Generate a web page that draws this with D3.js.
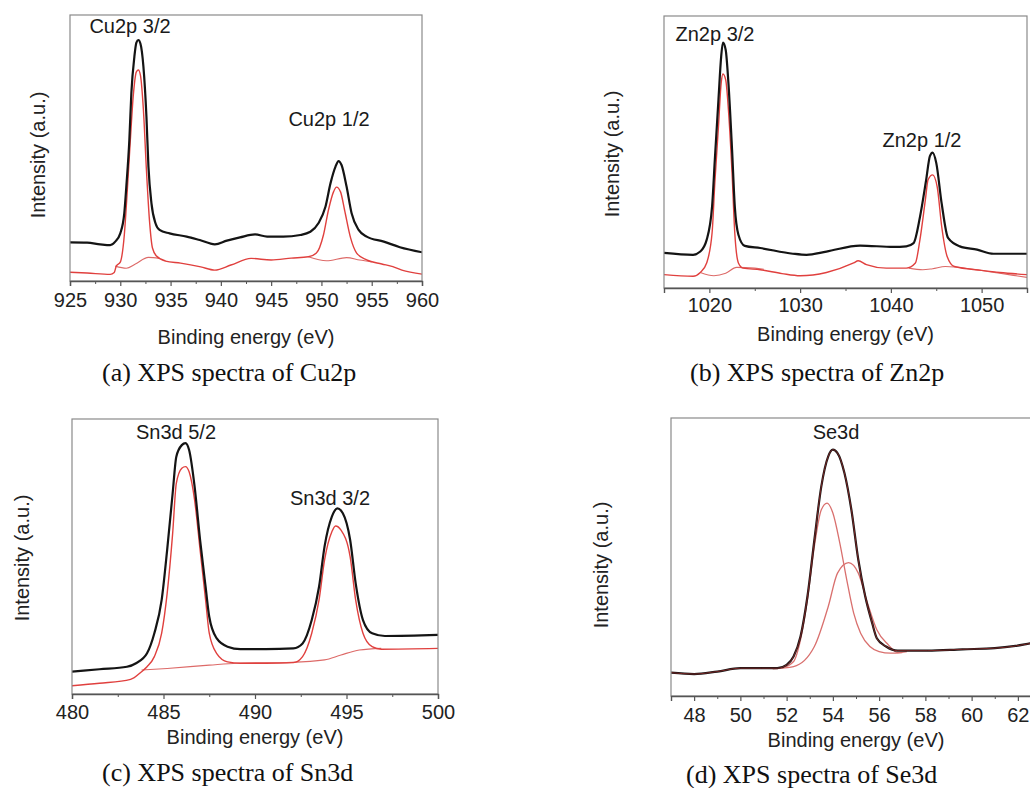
<!DOCTYPE html>
<html>
<head>
<meta charset="utf-8">
<script src="https://cdn.jsdelivr.net/npm/d3@7"></script>
<style>
  body { margin: 0; background: #fff; }
  svg text { font-family: "Liberation Sans", Arial, sans-serif; }
  svg text.caption { font-family: "Liberation Serif", "Times New Roman", serif; }
</style>
</head>
<body>
<svg id="xps" width="1030" height="788"></svg>
<script>
/* XPS spectra of Cu2p, Zn2p, Sn3d, Se3d: raw data (black), fit and background (red). */

// ---- (a) Cu2p: [binding energy eV, intensity a.u.]
const cuRaw = [[925,14.5],[926.7,14.4],[928,13.8],[929,13.5],[929.5,14.8],[930,17.9],[930.4,25.5],[930.6,35.5],[930.9,53],[931.1,70.6],[931.4,84.3],[931.6,89.6],[931.8,90.6],[932,89.3],[932.3,80.6],[932.6,61.8],[932.8,43],[933.1,29.2],[933.5,21.7],[933.9,19.2],[934.9,17.9],[936.6,16.7],[937.9,15.4],[939.4,13.8],[940.6,15.2],[941.9,16.4],[943.4,17.5],[944.6,16.7],[946.2,16.7],[947.9,17.3],[948.9,18.5],[949.7,21.7],[950.4,27.9],[950.9,36.7],[951.4,43],[951.7,45.1],[952,43.6],[952.5,35.5],[953,25.5],[953.7,19.2],[954.5,16.7],[956.2,14.8],[957.8,12.7],[960,10.8]];
const cuFit = [[925,3.3],[926.7,3.0],[929,2.5],[929.4,3.2],[929.6,5.6],[930,7.1],[930.4,17.3],[930.7,34.2],[931,53],[931.3,70],[931.6,78.6],[931.8,79.3],[932,77.4],[932.3,64.3],[932.6,41.7],[932.9,22.9],[933.2,12.4],[933.6,9.4],[934.5,7.5],[936,6.7],[938,5.3],[939.4,4.1],[941,6],[943,8.5],[945,7.9],[947,8.6],[948.7,9.1],[949.5,10.5],[950.2,17.3],[950.7,26.7],[951.2,33.5],[951.5,35.3],[951.9,33.5],[952.3,26.7],[952.9,16.2],[953.5,10.5],[954.5,7.9],[956,6.4],[957.1,5.4],[958,4.1],[960,2.6]];
const cuBackground = [
  [[929.5,5.6],[930.6,4.8],[931.5,6.4],[932.8,8.9],[933.9,8.5]],
  [[948.7,9.1],[950.5,7.6],[952.5,8.8],[953.8,7.9],[955,7.2]]
];
const cuTicks = [925,930,935,940,945,950,955,960];
const cuMinorTicks = [927.5,932.5,937.5,942.5,947.5,952.5,957.5];
const cuPeakNames = ["Cu2p 3/2","Cu2p 1/2"];

// ---- (b) Zn2p
const znRaw = [[1015,12.9],[1018.2,12.2],[1019,13.4],[1019.7,17.7],[1020.3,30],[1020.6,47.1],[1021,69.2],[1021.3,85.1],[1021.5,90.2],[1021.8,87.5],[1022.1,75.3],[1022.5,50.8],[1022.8,30],[1023.2,19.6],[1023.9,15.5],[1025.6,14.7],[1029.2,12.6],[1030.7,12.2],[1032.9,13.4],[1036.6,15.6],[1040.3,15.1],[1041.7,15.3],[1042.5,16.5],[1043.2,26],[1043.9,40],[1044.3,48.5],[1044.6,49.8],[1045,46],[1045.6,31],[1046.3,18.4],[1047.6,15.3],[1049.5,14.1],[1051.3,12.6],[1055,12.6]];
const znFit = [[1015,4.9],[1018.2,4.3],[1019,5.7],[1019.7,9.2],[1020.3,20.3],[1020.6,38.6],[1021,59.3],[1021.3,75.3],[1021.5,78.7],[1021.8,76.5],[1022.1,65.5],[1022.5,42.2],[1022.8,20.2],[1023.2,9.2],[1023.7,7.3],[1025.6,6.7],[1028,5.3],[1030,4.5],[1032.9,5.7],[1035.9,9.2],[1036.4,10],[1037.3,8.6],[1039.5,7.3],[1041.7,7.3],[1042.7,9.2],[1043.2,17.7],[1043.8,32.4],[1044.1,39.8],[1044.6,41.6],[1045.1,37.3],[1045.6,22.6],[1046.2,11.6],[1047,7.9],[1050,6.5],[1052,5.7],[1055,4.9]];
const znBackground = [
  [[1019,5.7],[1020.5,4.5],[1021.8,5.4],[1023,7.6],[1025,7.3],[1026,6.9]],
  [[1042,7.3],[1043.5,6.7],[1044.6,7.1],[1046,7.9],[1049,6.9],[1052,5.4],[1055,3.9]]
];
const znTicks = [1020,1030,1040,1050];
const znMinorTicks = [1015,1025,1035,1045,1055];
const znPeakNames = ["Zn2p 3/2","Zn2p 1/2"];

// ---- (c) Sn3d
const snRaw = [[480,8.1],[481.5,9],[483,9.9],[483.5,11.2],[484.1,14.8],[484.5,22.1],[484.9,34.2],[485.2,52.4],[485.5,73],[485.7,86.3],[486,90.5],[486.2,91.2],[486.4,88.7],[486.7,75.4],[487,56],[487.3,39],[487.5,28.1],[487.9,20.3],[488.5,17.2],[489.2,16.3],[490.6,16.3],[492.1,16.6],[492.6,18.4],[493.1,26.9],[493.5,39],[493.8,53.6],[494.2,64.5],[494.5,67.5],[494.8,65.7],[495.2,56],[495.5,40.3],[495.9,26.9],[496.4,22.1],[497.1,21.1],[500,21.5]];
const snFit = [[480,3],[481.5,3.9],[483.2,5.3],[483.8,8.1],[484.1,9.9],[484.5,13.6],[484.9,22.1],[485.2,36.6],[485.5,58.4],[485.7,76.6],[486,82.1],[486.2,82.7],[486.4,80.8],[486.7,70.5],[487,52.4],[487.3,34.2],[487.5,22.1],[487.9,14.8],[488.5,11.7],[489.2,11.2],[490.6,11.2],[492.1,11.4],[492.6,13.6],[493.1,22.1],[493.5,34.2],[493.8,48.7],[494.2,59],[494.4,61.1],[494.7,59.6],[495.2,49.9],[495.5,34.2],[495.9,22.1],[496.4,17.2],[496.9,16.3],[500,16.6]];
const snBackground = [
  [[483.8,8.7],[485.2,9.3],[487.5,10.5],[489,11.2],[492,11.5],[493.8,12.4],[494.7,14.2],[495.7,16],[496.9,16.6]]
];
const snTicks = [480,485,490,495,500];
const snMinorTicks = [482.5,487.5,492.5,497.5];
const snPeakNames = ["Sn3d 5/2","Sn3d 3/2"];

// ---- (d) Se3d
const seRaw = [[47,8.4],[48,7.9],[49,8.8],[50,10],[50.9,10],[51.6,10],[52,11.2],[52.3,14.2],[52.6,21.4],[52.9,35.8],[53.2,56.2],[53.5,75.4],[53.8,86.2],[54,88.6],[54.2,87.4],[54.5,80.2],[54.8,67],[55.1,49],[55.4,35.8],[55.7,26.2],[55.9,20.8],[56.3,17.8],[56.8,16.3],[58.1,16.3],[59.6,16.8],[61,17.2],[61.9,18],[62.6,19],[63,19.5]];
const sePeak1 = [[51.8,10],[52.3,12.4],[52.6,20.2],[52.9,34.6],[53.2,53.8],[53.5,67],[53.75,69.4],[54,65.8],[54.3,55],[54.6,41.8],[54.9,29.8],[55.2,22.6],[55.6,17.8],[56,16],[56.5,15.4],[57,15.6]];
const sePeak2 = [[51.4,9.8],[52.3,10.6],[53.2,17.8],[53.8,32.2],[54.2,44.2],[54.68,48],[55.1,44.2],[55.5,33.4],[55.9,23.8],[56.4,18.4],[56.8,15.6],[57.2,16]];
const seTicks = [48,50,52,54,56,58,60,62];
const seMinorTicks = [47,49,51,53,55,57,59,61,63];
const sePeakNames = ["Se3d"];

const captions = ["(a) XPS spectra of Cu2p","(b) XPS spectra of Zn2p","(c) XPS spectra of Sn3d","(d) XPS spectra of Se3d"];

// layout of the four panels (pixels); peak labels: centre x / baseline y inside the panel
const panels = [
  { left: 70, top: 15, right: 422, bottom: 281, domain: [925, 960], ticks: cuTicks, minor: cuMinorTicks, pad: 7,
    raw: cuRaw, fit: [cuFit], bg: cuBackground, overlay: false,
    labels: [{ t: cuPeakNames[0], x: 60, y: 18 }, { t: cuPeakNames[1], x: 259, y: 111 }],
    ylab: { x: 38, y: 155 }, xlab: 344, caption: { t: captions[0], x: 102, y: 381 } },
  { left: 664, top: 16, right: 1027, bottom: 288, domain: [1015, 1055], ticks: znTicks, minor: znMinorTicks, pad: 5,
    raw: znRaw, fit: [znFit], bg: znBackground, overlay: false,
    labels: [{ t: znPeakNames[0], x: 51, y: 25 }, { t: znPeakNames[1], x: 258, y: 131 }],
    ylab: { x: 612, y: 154 }, xlab: 341, caption: { t: captions[1], x: 690, y: 381 } },
  { left: 72, top: 419, right: 438, bottom: 694, domain: [480, 500], ticks: snTicks, minor: snMinorTicks, pad: 6,
    raw: snRaw, fit: [snFit], bg: snBackground, overlay: false,
    labels: [{ t: snPeakNames[0], x: 104, y: 20 }, { t: snPeakNames[1], x: 258, y: 86 }],
    ylab: { x: 22, y: 558 }, xlab: 744, caption: { t: captions[2], x: 102, y: 781 } },
  { left: 671, top: 418, right: 1041, bottom: 696, domain: [47, 63], ticks: seTicks, minor: seMinorTicks, pad: 7,
    raw: seRaw, fit: [sePeak1, sePeak2], bg: [], overlay: true,
    labels: [{ t: sePeakNames[0], x: 165, y: 21 }],
    ylab: { x: 601, y: 565 }, xlab: 747, caption: { t: captions[3], x: 686, y: 783 } }
];

const svg = d3.select("#xps");
svg.append("rect").attr("width", 1030).attr("height", 788).attr("fill", "#fff");

panels.forEach((p, i) => {
  const w = p.right - p.left, h = p.bottom - p.top;
  const x = d3.scaleLinear().domain(p.domain).range([0, w]);
  const y = d3.scaleLinear().domain([0, 100]).range([h, 0]);
  const line = d3.line().x(d => x(d[0])).y(d => y(d[1])).curve(d3.curveMonotoneX);

  const g = svg.append("g").attr("transform", `translate(${p.left},${p.top})`);

  g.append("clipPath").attr("id", "clip" + i)
    .append("rect").attr("width", w).attr("height", h);

  const plot = g.append("g").attr("clip-path", `url(#clip${i})`);

  // background lines
  plot.selectAll("path.bg")
    .data(p.bg)
    .join("path")
    .attr("class", "bg")
    .attr("d", line)
    .attr("fill", "none")
    .attr("stroke", "#dd6a68")
    .attr("stroke-width", 1.1);

  // fitted red curves
  plot.selectAll("path.fit")
    .data(p.fit)
    .join("path")
    .attr("class", "fit")
    .attr("d", line)
    .attr("fill", "none")
    .attr("stroke", p.overlay ? "#d9706e" : "#e0403e")
    .attr("stroke-width", p.overlay ? 1.3 : 1.4);

  // raw spectrum
  plot.append("path")
    .datum(p.raw)
    .attr("d", line)
    .attr("fill", "none")
    .attr("stroke", "#141414")
    .attr("stroke-width", 2.2)
    .attr("stroke-linejoin", "round");

  if (p.overlay) {
    plot.append("path")
      .datum(p.raw)
      .attr("d", line)
      .attr("fill", "none")
      .attr("stroke", "#b3302e")
      .attr("stroke-width", 0.9)
      .attr("opacity", 0.7);
  }

  // frame
  g.append("rect")
    .attr("width", w).attr("height", h)
    .attr("fill", "none")
    .attr("stroke", "#8a8a8a")
    .attr("stroke-width", 1.2);

  // minor ticks
  const minorAxis = g.append("g")
    .attr("transform", `translate(0,${h})`)
    .call(d3.axisBottom(x).tickValues(p.minor).tickSize(3).tickFormat(""));
  minorAxis.select(".domain").remove();
  minorAxis.selectAll("line").attr("stroke", "#555");

  // major ticks + labels
  const axis = g.append("g")
    .attr("transform", `translate(0,${h})`)
    .call(d3.axisBottom(x).tickValues(p.ticks).tickSize(5).tickPadding(p.pad).tickFormat(d3.format("d")));
  axis.select(".domain").attr("stroke", "#555").attr("stroke-width", 1.4);
  axis.selectAll("line").attr("stroke", "#555").attr("stroke-width", 1.2);
  axis.selectAll("text")
    .attr("font-size", 20)
    .attr("fill", "#222")
    .style("font-family", '"Liberation Sans", Arial, sans-serif');

  // peak labels
  g.selectAll("text.peak")
    .data(p.labels)
    .join("text")
    .attr("class", "peak")
    .attr("x", d => d.x)
    .attr("y", d => d.y)
    .attr("text-anchor", "middle")
    .attr("font-size", 20)
    .attr("fill", "#1a1a1a")
    .text(d => d.t);

  // axis titles
  svg.append("text")
    .attr("x", p.left + w / 2)
    .attr("y", p.xlab)
    .attr("text-anchor", "middle")
    .attr("font-size", 20)
    .attr("fill", "#222")
    .text("Binding energy (eV)");

  svg.append("text")
    .attr("transform", `translate(${p.ylab.x},${p.ylab.y}) rotate(-90)`)
    .attr("text-anchor", "middle")
    .attr("dy", "0.35em")
    .attr("font-size", 20)
    .attr("fill", "#222")
    .text("Intensity (a.u.)");

  svg.append("text")
    .attr("class", "caption")
    .attr("x", p.caption.x)
    .attr("y", p.caption.y)
    .attr("font-size", 26)
    .attr("fill", "#111")
    .text(p.caption.t);
});
</script>
</body>
</html>
